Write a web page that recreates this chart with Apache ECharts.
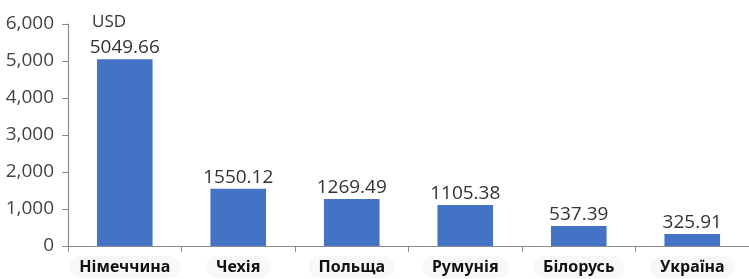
<!DOCTYPE html>
<html><head><meta charset="utf-8">
<script src="https://cdn.jsdelivr.net/npm/echarts@6/dist/echarts.min.js"></script>
<style>html,body{margin:0;padding:0;background:#fff}#c{width:749px;height:279px}</style>
</head><body><div id="c"></div>
<script>
const categories = ['Німеччина','Чехія','Польща','Румунія','Білорусь','Україна'];
const values = [5049.66, 1550.12, 1269.49, 1105.38, 537.39, 325.91];
const yTicks = [0, 1000, 2000, 3000, 4000, 5000, 6000];
const unitName = 'USD';

const chart = echarts.init(document.getElementById('c'), null, {renderer:'canvas'});
chart.setOption({
  animation:false,
  grid:{left:68, right:0, top:24, bottom:33},
  xAxis:{
    type:'category', data:categories,
    axisLine:{lineStyle:{color:'#8c8c8c', width:1.2}},
    axisTick:{show:true, interval:0, length:6, lineStyle:{color:'#8c8c8c'}},
    axisLabel:{interval:0, hideOverlap:false, color:'#111', fontFamily:'Noto Sans', fontWeight:'bold', fontSize:16, margin:10,
      backgroundColor:'#f8f8f8', borderRadius:12, padding:[3,10,3,10]}
  },
  yAxis:{
    type:'value', min:0, max:6000, interval:1000,
    name:unitName, nameLocation:'end', nameGap:2,
    nameTextStyle:{color:'#333', fontFamily:'Open Sans', fontSize:17, align:'left', verticalAlign:'middle', padding:[0,0,0,24]},
    axisLine:{show:true, lineStyle:{color:'#8c8c8c', width:1.2}},
    axisTick:{show:true, length:6, lineStyle:{color:'#8c8c8c'}},
    splitLine:{show:false},
    axisLabel:{color:'#444', fontFamily:'Open Sans', fontSize:19, margin:14,
      formatter:v=>yTicks.includes(v)?v.toLocaleString('en-US'):''}
  },
  series:[{
    type:'bar', data:values, barWidth:'49%',
    itemStyle:{color:'#4472C4'},
    label:{show:true, position:'top', distance:2, color:'#333', fontFamily:'Open Sans', fontSize:19,
      formatter:p=>p.value.toFixed(2)}
  }]
});
</script></body></html>
